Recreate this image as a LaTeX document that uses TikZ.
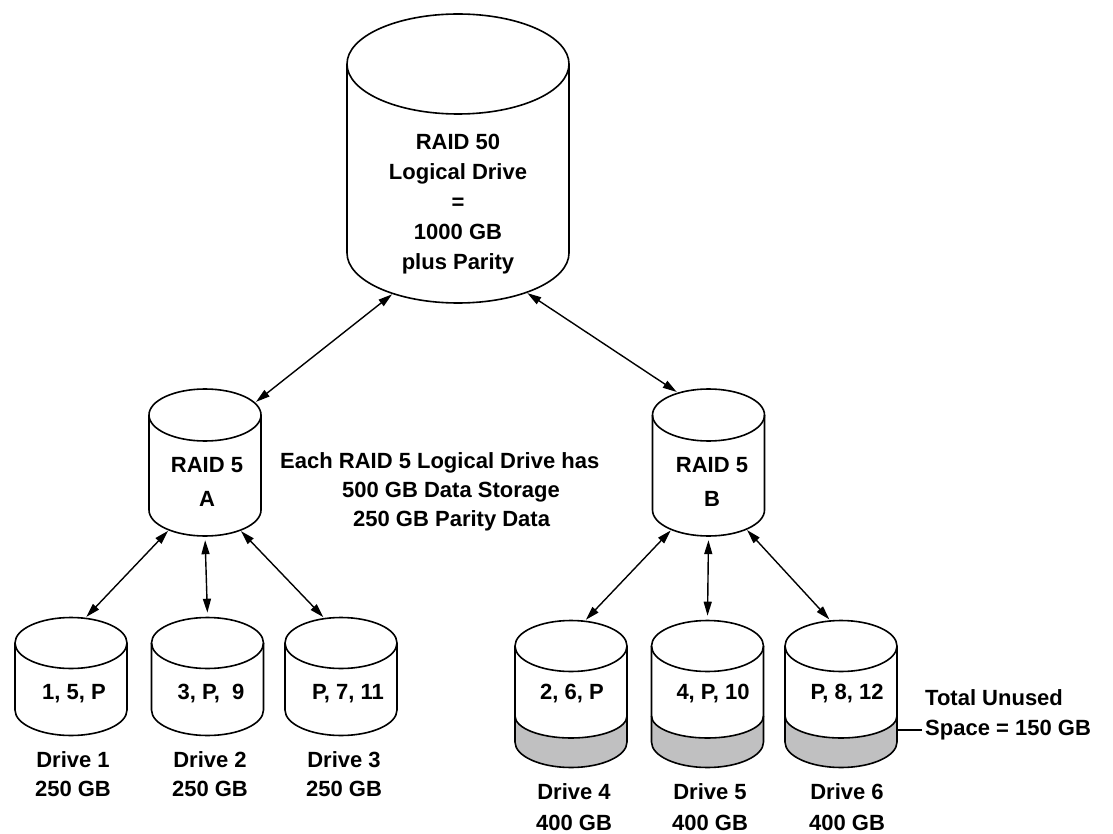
\documentclass[tikz,border=0pt]{standalone}
\usepackage{fontspec}
\setmainfont{Liberation Sans}
\usetikzlibrary{shapes.geometric,arrows.meta}

\definecolor{unusedgray}{RGB}{192,192,193}

\tikzset{
  drum/.style={line width=1.6pt},
  drumend/.style={ellipse, inner sep=0pt},
  link/.style={{Triangle[length=14pt,width=8pt]}-{Triangle[length=14pt,width=8pt]}, line width=1.4pt, shorten <=1pt, shorten >=1pt},
  lbl/.style={font=\bfseries\fontsize{22}{30}\selectfont, align=center, inner sep=0pt}
}

% \drum{name}{x}{y}{x radius}{y radius}{height}
\newcommand{\drum}[6]{%
  \draw[drum] (#2-#4,#3) -- (#2-#4,#3+#6) arc[start angle=180,end angle=0,x radius=#4,y radius=#5] -- (#2+#4,#3);
  \node[drumend, draw, drum, minimum width=2*#4, minimum height=2*#5] (#1-top) at (#2,#3) {};
  \node[drumend, minimum width=2*#4, minimum height=2*#5] (#1-bot) at (#2,#3+#6) {};
}

\begin{document}
\begin{tikzpicture}[x=1pt,y=-1pt]
\useasboundingbox (0,0) rectangle (1113,834);

% unused space on the 400 GB drives
\foreach \x in {571,707.5,841}
  \fill[unusedgray] (\x-56,716) arc[start angle=180,end angle=0,x radius=56,y radius=22] -- (\x+56,742) arc[start angle=0,end angle=180,x radius=56,y radius=25] -- cycle;

\drum{r50}{458}{64}{111}{50}{189}
\drum{ra}{205}{415}{56}{26}{95}
\drum{rb}{708.5}{415}{56}{26}{95}
\drum{d1}{71}{643}{56}{25.5}{67}
\drum{d2}{207.5}{643}{56}{25.5}{67}
\drum{d3}{341}{643}{56}{25.5}{67}
\drum{d4}{571}{646}{56}{25.5}{96}
\drum{d5}{707.5}{646}{56}{25.5}{96}
\drum{d6}{841}{646}{56}{25.5}{96}

\foreach \x in {571,707.5,841}
  \draw[drum] (\x-56,716) arc[start angle=180,end angle=0,x radius=56,y radius=22];

\node[lbl] (r50-txt) at (458,204) {RAID 50\\Logical Drive\\=\\1000 GB\\plus Parity};
\node[lbl, font=\bfseries\fontsize{22}{34}\selectfont] (ra-txt) at (207,482) {RAID 5\\A};
\node[lbl, font=\bfseries\fontsize{22}{34}\selectfont] (rb-txt) at (712,482) {RAID 5\\B};
\node[lbl, align=left, anchor=west, font=\bfseries\fontsize{22}{29}\selectfont] (note) at (280,492)
  {Each RAID 5 Logical Drive has\\\hspace*{62pt}500 GB Data Storage\\\hspace*{73pt}250 GB Parity Data};

\node[lbl] (d1-txt) at (74,694) {1, 5, P};
\node[lbl] (d2-txt) at (211,694) {3, P,~ 9};
\node[lbl] (d3-txt) at (348,694) {P, 7, 11};
\node[lbl] (d4-txt) at (572,694) {2, 6, P};
\node[lbl] (d5-txt) at (713,694) {4, P, 10};
\node[lbl] (d6-txt) at (847,694) {P, 8, 12};

\node[lbl, font=\bfseries\fontsize{22}{29}\selectfont] (d1-lbl) at (73,774) {Drive 1\\250 GB};
\node[lbl, font=\bfseries\fontsize{22}{29}\selectfont] (d2-lbl) at (210,774) {Drive 2\\250 GB};
\node[lbl, font=\bfseries\fontsize{22}{29}\selectfont] (d3-lbl) at (344,774) {Drive 3\\250 GB};
\node[lbl, font=\bfseries\fontsize{22}{31}\selectfont] (d4-lbl) at (574,807) {Drive 4\\400 GB};
\node[lbl, font=\bfseries\fontsize{22}{31}\selectfont] (d5-lbl) at (710,807) {Drive 5\\400 GB};
\node[lbl, font=\bfseries\fontsize{22}{31}\selectfont] (d6-lbl) at (847,807) {Drive 6\\400 GB};

\node[lbl, align=left, anchor=west] (unused) at (925,715) {Total Unused\\Space = 150 GB};
\draw[line width=1.3pt, shorten >=3pt] ([yshift=12pt]d6-bot.east) -- ([yshift=-15pt]unused.west);

\draw[link] (r50-bot.-148) -- (ra-top.14);
\draw[link] (r50-bot.-30) -- (rb-top.144);
\draw[link] (ra-bot.-151) -- (d1-top.60);
\draw[link, shorten <=4pt, shorten >=4pt] (ra-bot.-90) -- (d2-top.90);
\draw[link] (ra-bot.-30) -- (d3-top.124);
\draw[link] (rb-bot.-152) -- (d4-top.61);
\draw[link, shorten <=4pt, shorten >=4pt] (rb-bot.-90) -- (d5-top.90);
\draw[link] (rb-bot.-27) -- (d6-top.113);
\end{tikzpicture}
\end{document}
